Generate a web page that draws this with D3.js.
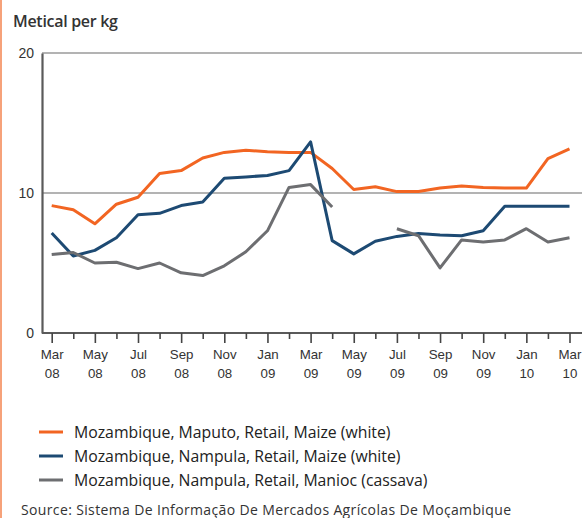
<!DOCTYPE html>
<html>
<head>
<meta charset="utf-8">
<script src="https://cdn.jsdelivr.net/npm/d3@7"></script>
<style>
  html, body { margin: 0; padding: 0; background: #fff; }
  svg { display: block; font-family: "Open Sans", "Noto Sans", sans-serif; }
</style>
</head>
<body>
<svg id="chart" width="584" height="518"></svg>
<script>
// Monthly retail prices, Mar 2008 – Mar 2010 (Metical per kg)
const months = ["Mar 08","Apr 08","May 08","Jun 08","Jul 08","Aug 08","Sep 08","Oct 08","Nov 08","Dec 08",
                "Jan 09","Feb 09","Mar 09","Apr 09","May 09","Jun 09","Jul 09","Aug 09","Sep 09","Oct 09",
                "Nov 09","Dec 09","Jan 10","Feb 10","Mar 10"];

const maputoMaize = [9.1, 8.8, 7.8, 9.2, 9.7, 11.4, 11.6, 12.5, 12.9, 13.05, 12.95, 12.9,
                     12.9, 11.75, 10.25, 10.45, 10.1, 10.1, 10.35, 10.5, 10.4, 10.35, 10.35, 12.45, 13.15];
const nampulaMaize = [7.15, 5.5, 5.9, 6.8, 8.45, 8.55, 9.1, 9.35, 11.05, 11.15, 11.25, 11.6,
                      13.65, 6.6, 5.65, 6.55, 6.9, 7.1, 7.0, 6.95, 7.3, 9.05, 9.05, 9.05, 9.05];
const nampulaCassava = [5.6, 5.75, 5.0, 5.05, 4.6, 5.0, 4.3, 4.1, 4.8, 5.8, 7.3, 10.4,
                        10.6, 9.0, null, null, 7.45, 6.95, 4.65, 6.65, 6.5, 6.65, 7.45, 6.5, 6.8];

const yTicks = [0, 10, 20];
const seriesNames = [
  "Mozambique, Maputo, Retail, Maize (white)",
  "Mozambique, Nampula, Retail, Maize (white)",
  "Mozambique, Nampula, Retail, Manioc (cassava)"
];
const seriesColors = ["#f26522", "#1d4a73", "#6d6e71"];
const sourceText = "Source: Sistema De Informação De Mercados Agrícolas De Moçambique";

const series = [maputoMaize, nampulaMaize, nampulaCassava];

const svg = d3.select("#chart");

// orange rule down the left edge of the panel
svg.append("rect").attr("x", 0).attr("y", 0).attr("width", 2).attr("height", 518).attr("fill", "#f6a27a");

const x = d3.scalePoint().domain(months).range([51.7, 569.5]);
const y = d3.scaleLinear().domain([0, 20]).range([333, 53]);

// horizontal gridlines at 10 and 20
svg.append("g").selectAll("line")
  .data(yTicks.filter(d => d > 0))
  .join("line")
  .attr("x1", 42).attr("x2", 582)
  .attr("y1", d => y(d)).attr("y2", d => y(d))
  .attr("stroke", "#b3b3b3").attr("stroke-width", 2.2);

// y axis
const yAxis = svg.append("g").attr("transform", "translate(42,0)")
  .call(d3.axisLeft(y).tickValues(yTicks).tickSize(0).tickPadding(8));
yAxis.select(".domain").attr("stroke", "#5a5a5a").attr("stroke-width", 2.2);
yAxis.selectAll("text").attr("font-size", 14).attr("fill", "#333").attr("dy", "0.35em");

// x axis: ticks every month, longer and labelled every second month
const xAxis = svg.append("g").attr("transform", `translate(0,${y(0)})`)
  .call(d3.axisBottom(x).tickSize(0).tickFormat(""));
xAxis.select(".domain").attr("d", "M42,0H582").attr("stroke", "#5a5a5a").attr("stroke-width", 2.2);
xAxis.selectAll(".tick line")
  .attr("y2", (d, i) => i % 2 === 0 ? 10 : 6)
  .attr("stroke", "#444").attr("stroke-width", 1.6);
xAxis.selectAll(".tick").each(function(d, i) {
  if (i % 2 !== 0) return;
  const [mon, yr] = d.split(" ");
  const t = d3.select(this).append("text")
    .attr("fill", "#333").attr("font-size", 13.3).attr("text-anchor", "middle");
  t.append("tspan").attr("x", 0).attr("y", 26).text(mon);
  t.append("tspan").attr("x", 0).attr("y", 45).text(yr);
});

// price lines
const line = d3.line()
  .defined(d => d != null)
  .x((d, i) => x(months[i]))
  .y(d => y(d));

svg.append("g").selectAll("path")
  .data(series)
  .join("path")
  .attr("d", d => line(d))
  .attr("fill", "none")
  .attr("stroke", (d, i) => seriesColors[i])
  .attr("stroke-width", 3)
  .attr("stroke-linejoin", "round");

// y-axis title
svg.append("text").attr("x", 13).attr("y", 26.5)
  .attr("font-size", 16).attr("font-weight", 600).attr("fill", "#333")
  .attr("letter-spacing", -0.3)
  .text("Metical per kg");

// legend
const legend = svg.append("g").selectAll("g")
  .data(seriesNames)
  .join("g")
  .attr("transform", (d, i) => `translate(39,${432 + i * 24})`);
legend.append("line")
  .attr("x1", 0).attr("x2", 24)
  .attr("stroke", (d, i) => seriesColors[i]).attr("stroke-width", 3);
legend.append("text")
  .attr("x", 35).attr("dy", "0.35em")
  .attr("font-size", 15.8).attr("fill", "#222")
  .text(d => d);

// source note
svg.append("text").attr("x", 21).attr("y", 515)
  .attr("font-size", 14).attr("fill", "#333")
  .attr("textLength", 490).attr("lengthAdjust", "spacing")
  .text(sourceText);
</script>
</body>
</html>
